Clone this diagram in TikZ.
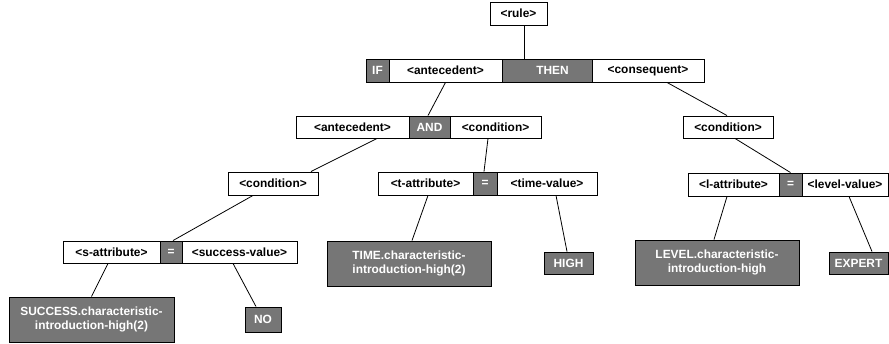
\documentclass[tikz,border=0pt]{standalone}
\usepackage{fontspec}
\setmainfont{Liberation Sans}
\usetikzlibrary{calc}
\definecolor{boxgray}{HTML}{767676}
\tikzset{
  base/.style={draw=black, line width=0.9pt, inner sep=0pt, font=\bfseries\fontsize{11.9}{13.3}\selectfont, align=center},
  wbox/.style={base, fill=white, text=black},
  gbox/.style={base, fill=boxgray, text=white},
  link/.style={draw=black, line width=0.8pt}
}
\newcommand\bx[6]{\node[#1, minimum width=#4pt, minimum height=#5pt] (#2) at (#3) {#6};}
\begin{document}
\begin{tikzpicture}[x=1pt, y=-1pt]
\useasboundingbox (0,0) rectangle (889,343);
% row 1
\bx{wbox}{rule}{518.5,13.5}{57}{23}{<rule>}
% row 2
\bx{gbox}{if}{377.5,70.5}{23}{23}{IF}
\bx{wbox}{anteA}{445.5,70.5}{113}{23}{<antecedent>}
\bx{gbox}{then}{547,70.5}{90}{23}{\hspace*{11pt}THEN}
\bx{wbox}{cons}{648,70.5}{112}{23}{<consequent>}
% row 3
\bx{wbox}{anteB}{352.5,127}{113}{22}{<antecedent>}
\bx{gbox}{and}{429.5,127}{41}{22}{AND}
\bx{wbox}{condA}{495.5,127}{91}{22}{<condition>}
\bx{wbox}{condR}{728,127}{90}{22}{<condition>}
% row 4
\bx{wbox}{condL}{273,183.5}{90}{23}{<condition>}
\bx{wbox}{tattr}{425.5,183.5}{95}{23}{<t-attribute>}
\bx{gbox}{eqA}{485,183.5}{24}{23}{=}
\bx{wbox}{timev}{547,183.5}{100}{23}{<time-value>}
\bx{wbox}{lattr}{733.5,184.5}{91}{23}{<l-attribute>}
\bx{gbox}{eqB}{790.5,184.5}{23}{23}{=}
\bx{wbox}{levelv}{845,184.5}{86}{23}{<level-value>}
% row 5
\bx{wbox}{sattr}{111.5,252}{97}{22}{<s-attribute>}
\bx{gbox}{eqC}{171,252}{22}{22}{=}
\bx{wbox}{succv}{239.5,252}{115}{22}{<success-value>}
% leaves
\bx{gbox}{succ}{91.5,319.5}{165}{45}{SUCCESS.characteristic-\\introduction-high(2)}
\bx{gbox}{no}{263,319.5}{36}{25}{NO}
\bx{gbox}{time}{409,263.5}{164}{45}{TIME.characteristic-\\introduction-high(2)}
\bx{gbox}{high}{568.5,263}{49}{22}{HIGH}
\bx{gbox}{level}{717,262.5}{164}{45}{LEVEL.characteristic-\\introduction-high}
\bx{gbox}{expert}{858.5,263}{59}{22}{EXPERT}
% connectors
\draw[link] ($(rule.south)+(5.5,0)$) -- ($(then.north)+(-23,0)$);
\draw[link] (anteA.south) -- ($(and.north)+(-1.5,0)$);
\draw[link] ($(cons.south)+(19,0)$) -- ($(condR.north)+(-1,0)$);
\draw[link] ($(anteB.south)+(24.5,0)$) -- ($(condL.north)+(38,0)$);
\draw[link] ($(condA.south)+(-7.5,0)$) -- ($(eqA.north)+(-1,0)$);
\draw[link] ($(condR.south)+(7,0)$) -- (eqB.north);
\draw[link] ($(condL.south)+(-20,0)$) -- ($(eqC.north)+(2,0)$);
\draw[link] ($(sattr.south)+(-3.5,0)$) -- (succ.north);
\draw[link] ($(succv.south)+(-6.5,0)$) -- ($(no.north)+(-7,0)$);
\draw[link] ($(tattr.south)+(2.5,0)$) -- ($(time.north)+(3,0)$);
\draw[link] ($(timev.south)+(9,0)$) -- ($(high.north)+(-1.5,0)$);
\draw[link] ($(lattr.south)+(-6.5,0)$) -- ($(level.north)+(-3,0)$);
\draw[link] ($(levelv.south)+(4,0)$) -- ($(expert.north)+(13.5,0)$);
\end{tikzpicture}
\end{document}
